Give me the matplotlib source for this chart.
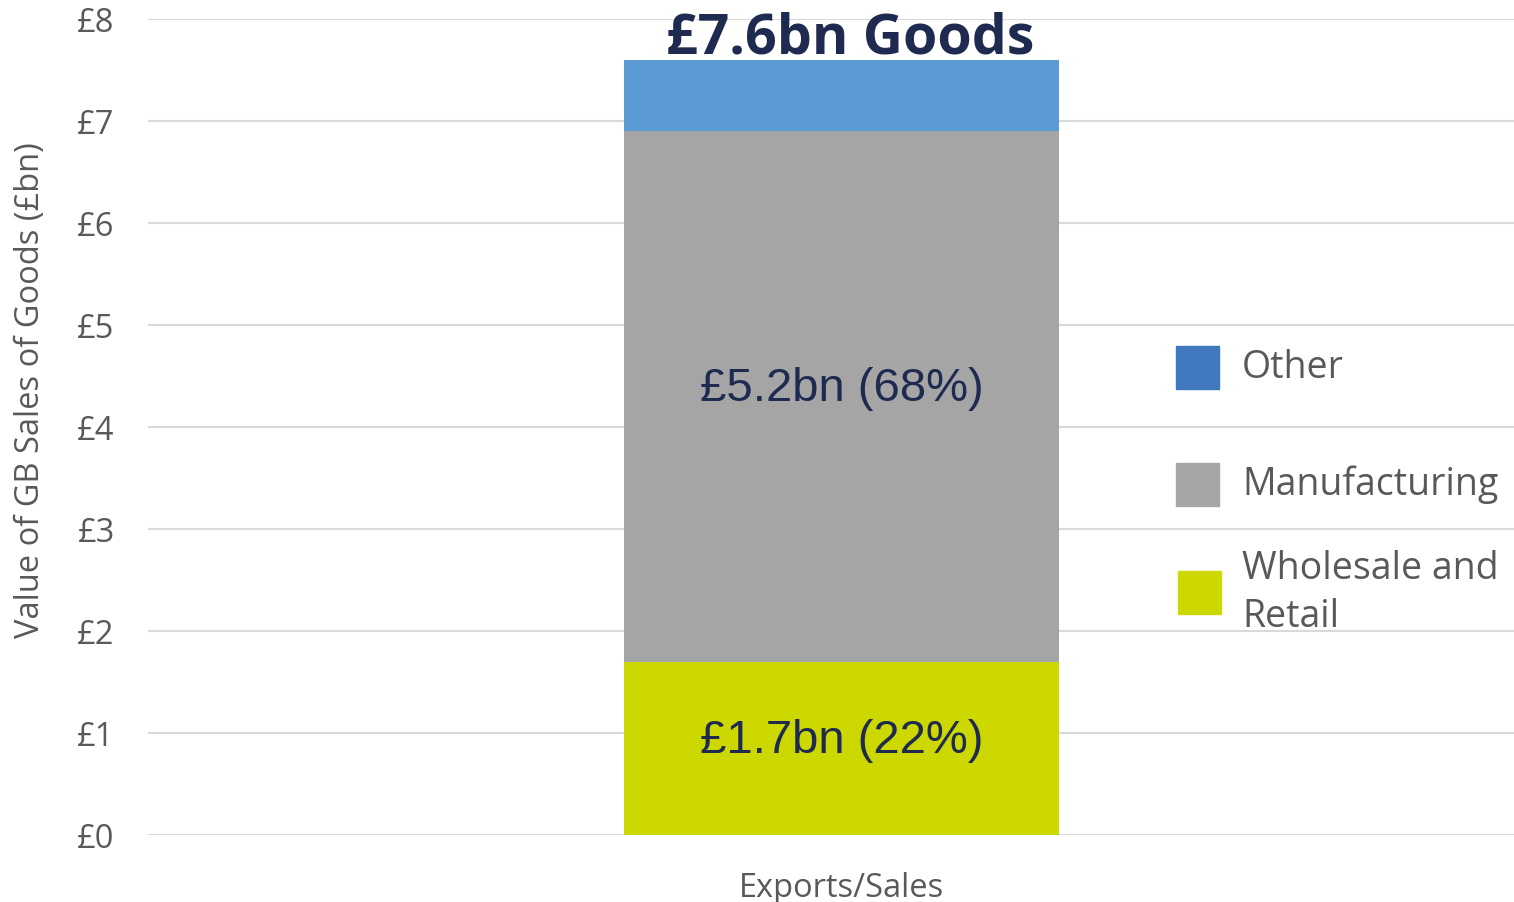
import matplotlib.pyplot as plt
from matplotlib.patches import Rectangle

# data
category = ["Exports/Sales"]
series = ["Wholesale and\nRetail", "Manufacturing", "Other"]
values = [1.7, 5.2, 0.7]
seg_labels = ["£1.7bn (22%)", "£5.2bn (68%)", ""]
total_label = "£7.6bn Goods"
y_ticks = [0, 1, 2, 3, 4, 5, 6, 7, 8]

bar_colors = ["#CDD700", "#A5A5A5", "#5B9BD5"]
legend_colors = ["#CDD700", "#A5A5A5", "#4179BF"]
grey = "#595959"
navy = "#1F2A50"

W, H = 1514, 903

plt.rcParams["font.family"] = ["Open Sans", "DejaVu Sans"]

fig = plt.figure(figsize=(W / 100, H / 100), dpi=100)
ax = fig.add_axes([0.0978, 0.0742, 0.9022, 0.9037])

# =========================
# STACKED BAR
# =========================
bottom = 0
for val, col, lab in zip(values, bar_colors, seg_labels):
    ax.bar(0, val, bottom=bottom, width=1.0, color=col, zorder=3)
    if lab:
        ax.annotate(lab, xy=(0, bottom + val / 2), xytext=(0, 6),
                    textcoords="offset points", ha="center", va="center",
                    fontsize=34, color=navy, family="Liberation Sans", zorder=4)
    bottom += val

ax.annotate(total_label, xy=(0, sum(values)), xytext=(6.5, 5),
            textcoords="offset points", ha="center", va="baseline",
            fontsize=40, fontweight="bold", color=navy, zorder=4)

# =========================
# AXES
# =========================
ax.set_xlim(-1.594, 1.546)
ax.set_ylim(0, 8)
ax.set_yticks(y_ticks)
ax.set_yticklabels([f"£{t}" for t in y_ticks])
ax.set_xticks([0])
ax.set_xticklabels(category)
ax.tick_params(axis="y", length=0, pad=24, labelsize=23.5, labelcolor=grey)
ax.tick_params(axis="x", length=0, pad=26, labelsize=23.5, labelcolor=grey)
ax.grid(axis="y", color="#D9D9D9", linewidth=1.5, zorder=0)
for s in ax.spines.values():
    s.set_visible(False)

ax.set_ylabel("Value of GB Sales of Goods (£bn)", fontsize=23.5, color=grey)
ax.yaxis.set_label_coords(47 / W, 1 - 390 / H, transform=fig.transFigure)

# =========================
# LEGEND (drawn by hand to match the spacing)
# =========================
leg_y = [593, 485, 368]   # pixel centres, wholesale / manufacturing / other
leg_x = [1178, 1176, 1176]
for name, col, y, x in zip(series, legend_colors, leg_y, leg_x):
    fig.patches.append(Rectangle((x / W, 1 - (y + 21.5) / H), 43 / W, 43 / H,
                                 transform=fig.transFigure, color=col,
                                 figure=fig))
    fig.text(1242 / W, 1 - y / H, name, ha="left", va="center", fontsize=27,
             color=grey, linespacing=1.33)

fig.savefig("out.png", dpi=100)
